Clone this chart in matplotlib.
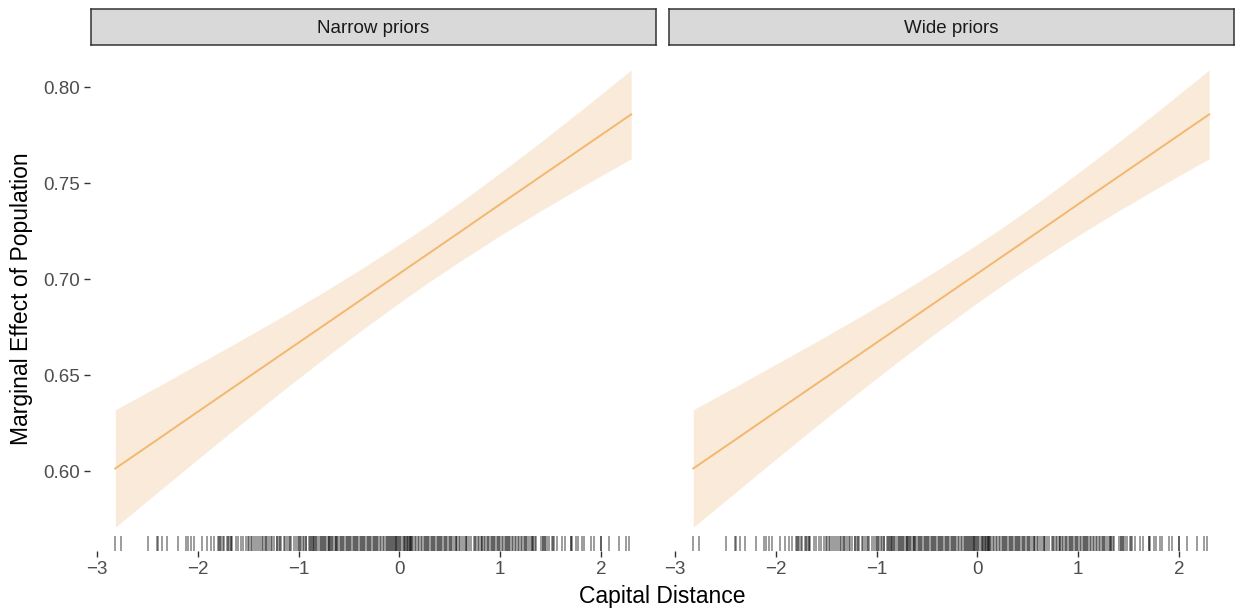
import numpy as np
import matplotlib
matplotlib.use('Agg')
import matplotlib.pyplot as plt
import matplotlib.transforms as mtransforms

plt.rcParams['font.family'] = ['Liberation Sans', 'DejaVu Sans']

# facets
panels = ["Narrow priors", "Wide priors"]

# marginal effect line and interval
x_fit = [-2.82, -2.4, -2.0, -1.6, -1.2, -0.8, -0.4, 0.0, 0.27, 0.6, 1.0, 1.4, 1.8, 2.3]
y_fit = [0.6014, 0.6165, 0.6310, 0.6454, 0.6598, 0.6742, 0.6886, 0.7030, 0.7127,
         0.7246, 0.7391, 0.7535, 0.7679, 0.7859]
y_upper = [0.6320, 0.6440, 0.6557, 0.6674, 0.6794, 0.6918, 0.7047, 0.7182, 0.7277,
           0.7399, 0.7554, 0.7714, 0.7879, 0.8090]
y_lower = [0.5708, 0.5890, 0.6063, 0.6234, 0.6402, 0.6566, 0.6725, 0.6878, 0.6977,
           0.7093, 0.7228, 0.7356, 0.7479, 0.7628]

# capital distance observations (rug)
rug_x = [
    -2.822, -2.762, -2.498, -2.409, -2.399, -2.359, -2.31, -2.201, -2.119, -2.102,
    -2.069, -2.037, -1.963, -1.914, -1.871, -1.839, -1.805, -1.792, -1.772, -1.740,
    -1.716, -1.693, -1.673, -1.673, -1.607, -1.574, -1.518, -1.495, -1.475, -1.443,
    -1.419, -1.386, -1.353, -1.337, -1.310, -1.277, -1.245, -1.211, -1.188, -1.171,
    -1.139, -1.099, -1.072, -1.023, -1.000, -0.980, -0.948, -0.924, -0.891, -0.868,
    -0.849, -0.849, -0.825, -0.792, -0.769, -0.745, -0.725, -0.700, -0.700, -0.680,
    -0.655, -0.630, -0.630, -0.605, -0.580, -0.560, -0.535, -0.510, -0.490, -0.465,
    -0.440, -0.420, -0.395, -0.370, -0.350, -0.325, -0.300, -0.280, -0.255, -0.230,
    -0.210, -0.180, -0.150, -0.100, -0.090, -0.075, -0.060, -0.045, -0.030, -0.020,
    0.010, 0.050, 0.060, 0.075, 0.085, 0.100, 0.110, 0.120, 0.150, 0.180,
    0.210, 0.240, 0.260, 0.285, 0.310, 0.330, 0.355, 0.380, 0.400, 0.425,
    0.450, 0.475, 0.500, 0.525, 0.560, 0.560, 0.590, 0.620, 0.660, 0.660,
    0.690, 0.740, 0.760, 0.790, 0.820, 0.820, 0.850, 0.880, 0.905, 0.930,
    0.950, 0.975, 1.000, 1.030, 1.060, 1.080, 1.100, 1.130, 1.160, 1.190,
    1.220, 1.250, 1.270, 1.304, 1.327, 1.327, 1.347, 1.403, 1.426, 1.446,
    1.446, 1.468, 1.512, 1.535, 1.568, 1.617, 1.644, 1.700, 1.700, 1.716,
    1.750, 1.775, 1.809, 1.832, 1.898, 1.931, 1.997, 1.997, 2.079, 2.178,
    2.250, 2.277,
    -1.78, -1.75, -1.70, -1.66, -1.62, -1.55, -1.50, -1.46, -1.40, -1.36,
    -1.32, -1.29, -1.26, -1.22, -1.20, -1.15, -1.12, -1.09, -1.05, -1.01,
    -0.99, -0.96, -0.93, -0.90, -0.88, -0.86, -0.83, -0.81, -0.78, -0.76,
    -0.74, -0.71, -0.69, -0.665, -0.64, -0.62, -0.59, -0.57, -0.55, -0.52,
    -0.50, -0.48, -0.455, -0.43, -0.41, -0.385, -0.36, -0.34, -0.315, -0.29,
    -0.265, -0.245, -0.22, -0.195, -0.165, -0.135, -0.12, -0.11, -0.085, -0.05,
    -0.035, -0.01, 0.0, 0.02, 0.035, 0.055, 0.07, 0.09, 0.105, 0.115,
    0.13, 0.16, 0.195, 0.225, 0.25, 0.27, 0.295, 0.32, 0.345, 0.37,
    0.39, 0.415, 0.44, 0.465, 0.49, 0.515, 0.54, 0.575, 0.605, 0.64,
    0.675, 0.71, 0.75, 0.775, 0.805, 0.835, 0.865, 0.89, 0.92, 0.94,
    0.965, 0.99, 1.015, 1.045, 1.07, 1.09, 1.115, 1.145, 1.175, 1.205,
    1.235, 1.26, 1.29, 1.315, 1.36, 1.42, 1.48, 1.52,
]

x_ticks = [-3, -2, -1, 0, 1, 2]
x_ticklabels = ["\u22123", "\u22122", "\u22121", "0", "1", "2"]
y_ticks = [0.60, 0.65, 0.70, 0.75, 0.80]
y_ticklabels = ["0.60", "0.65", "0.70", "0.75", "0.80"]

W, H = 1238, 612
fig = plt.figure(figsize=(W / 100, H / 100), dpi=100)
fig.patch.set_facecolor('white')

panel_left = [89.5, 667.5]
panel_w = 567.5
panel_top, panel_bot = 47, 551
strip_top, strip_bot = 9, 45

line_col = '#F2B86E'
band_col = '#FAEADA'

for i, name in enumerate(panels):
    ax = fig.add_axes([panel_left[i] / W, 1 - panel_bot / H,
                       panel_w / W, (panel_bot - panel_top) / H])
    ax.fill_between(x_fit, y_lower, y_upper, color=band_col, linewidth=0)
    ax.plot(x_fit, y_fit, color=line_col, linewidth=1.4)

    # rug along the bottom of the panel
    trans = mtransforms.blended_transform_factory(ax.transData, ax.transAxes)
    ax.vlines(rug_x, 0, 0.03, transform=trans, color='black', alpha=0.42, linewidth=1.3)

    ax.set_xlim(-3.076, 2.556)
    ax.set_ylim(0.5584, 0.821)
    for s in ax.spines.values():
        s.set_visible(False)

    ax.set_xticks(x_ticks)
    ax.set_xticklabels(x_ticklabels)
    ax.tick_params(axis='both', length=4, width=1.0, color='#333333',
                   labelcolor='#4D4D4D', labelsize=13.5, pad=3)
    if i == 0:
        ax.set_yticks(y_ticks)
        ax.set_yticklabels(y_ticklabels)
    else:
        ax.set_yticks([])

    # facet strip
    sax = fig.add_axes([panel_left[i] / W + 1 / W, 1 - strip_bot / H,
                        (panel_w - 2) / W, (strip_bot - strip_top) / H])
    sax.set_facecolor('#D9D9D9')
    sax.set_xticks([])
    sax.set_yticks([])
    for s in sax.spines.values():
        s.set_color('#333333')
        s.set_linewidth(1.1)
    sax.text(0.5, 0.47, name, ha='center', va='center', fontsize=13.5,
             color='#1A1A1A', transform=sax.transAxes)

fig.text(662 / W, 1 - 596 / H, "Capital Distance", ha='center', va='center', fontsize=16.5)
fig.text(22 / W, 1 - 299 / H, "Marginal Effect of Population", ha='center', va='center',
         rotation=90, fontsize=16.5)

fig.savefig('out.png', dpi=100)
